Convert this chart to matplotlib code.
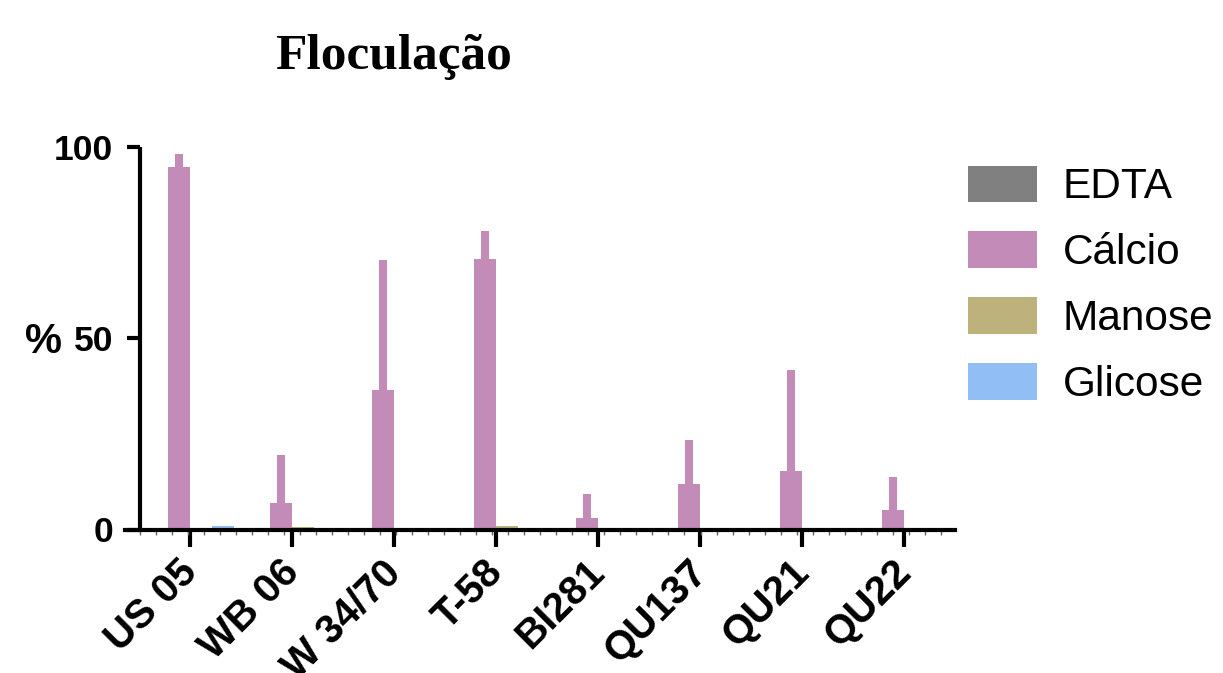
import matplotlib
matplotlib.use("Agg")
import matplotlib.pyplot as plt
import matplotlib.transforms as mtransforms
import numpy as np
from matplotlib.patches import Patch

# ---- data ----
categories = ["US 05", "WB 06", "W 34/70", "T-58", "BI281", "QU137", "QU21", "QU22"]
series_names = ["EDTA", "Cálcio", "Manose", "Glicose"]
edta = [0, 0, 0, 0, 0, 0, 0, 0]
calcio = [94.7, 7.0, 36.6, 70.7, 3.1, 11.8, 15.2, 5.2]
calcio_err = [3.5, 12.4, 33.8, 7.3, 6.1, 11.5, 26.4, 8.4]
manose = [0, 0.6, 0, 0.8, 0, 0, 0, 0]
glicose = [0.8, 0, 0.3, 0.3, 0, 0, 0, 0]
yticks = [0, 50, 100]

colors = ["#808080", "#C28BB8", "#BDB27B", "#90BEF5"]

plt.rcParams['font.family'] = ['Liberation Sans', 'DejaVu Sans']

fig = plt.figure(figsize=(12.23, 6.73), dpi=100)
ax = fig.add_axes([125/1223, 1-529.5/673, (955-125)/1223, (529.5-147)/673])

x = np.arange(len(categories))
w = 0.215
offsets = [-1.5*w, -0.5*w, 0.5*w, 1.5*w]
data = [edta, calcio, manose, glicose]
for vals, off, col in zip(data, offsets, colors):
    ax.bar(x + off, vals, width=w, color=col, edgecolor='none', zorder=2)

ax.errorbar(x + offsets[1], calcio, yerr=[np.zeros(len(calcio)), calcio_err],
            fmt='none', ecolor=colors[1], elinewidth=5.8, capsize=0, zorder=2)

xleft_axis = -0.49
ax.set_xlim(-0.637, 7.5)
ax.set_ylim(0, 100)

for s in ['top', 'right']:
    ax.spines[s].set_visible(False)
ax.spines['left'].set_position(('data', xleft_axis))
ax.spines['left'].set_linewidth(3.0)
ax.spines['bottom'].set_linewidth(3.0)
ax.spines['left'].set_capstyle('butt')

ax.set_yticks(yticks)
ax.set_yticklabels([str(v) for v in yticks], fontsize=25.5, fontweight='bold')
ax.tick_params(axis='y', direction='out', length=9.5, width=3.0, pad=10)

ax.set_xticks(x)
ax.set_xticklabels(categories, fontsize=29, fontweight='bold', rotation=45,
                   ha='right', va='top', rotation_mode='anchor')
ax.tick_params(axis='x', which='major', direction='out', length=12, width=3.0, pad=5)
shift = mtransforms.ScaledTranslation(-12.5/100, 0, fig.dpi_scale_trans)
for lab in ax.get_xticklabels():
    lab.set_transform(lab.get_transform() + shift)
ax.set_xticks(np.arange(xleft_axis, 7.5, 0.157), minor=True)
ax.tick_params(axis='x', which='minor', direction='out', length=3.5, width=1.0, color='#666666')

fig.text(43/1223, 1-342/673, "%", fontsize=30, fontweight='bold', ha='center', va='center')

fig.text(393/1223, 1-69/673, "Floculação", fontsize=37, fontweight='bold',
         family=['Liberation Serif', 'DejaVu Serif'], ha='center', va='baseline')

handles = [Patch(facecolor=c, edgecolor='none') for c in colors]
ax.legend(handles, series_names, loc='upper left', bbox_to_anchor=(968/1223, 1-165.5/673),
          bbox_transform=fig.transFigure, frameon=False, fontsize=30.5,
          handlelength=1.63, handleheight=0.95, handletextpad=0.6, labelspacing=0.57,
          borderpad=0, borderaxespad=0)

fig.savefig("out.png", dpi=100)
